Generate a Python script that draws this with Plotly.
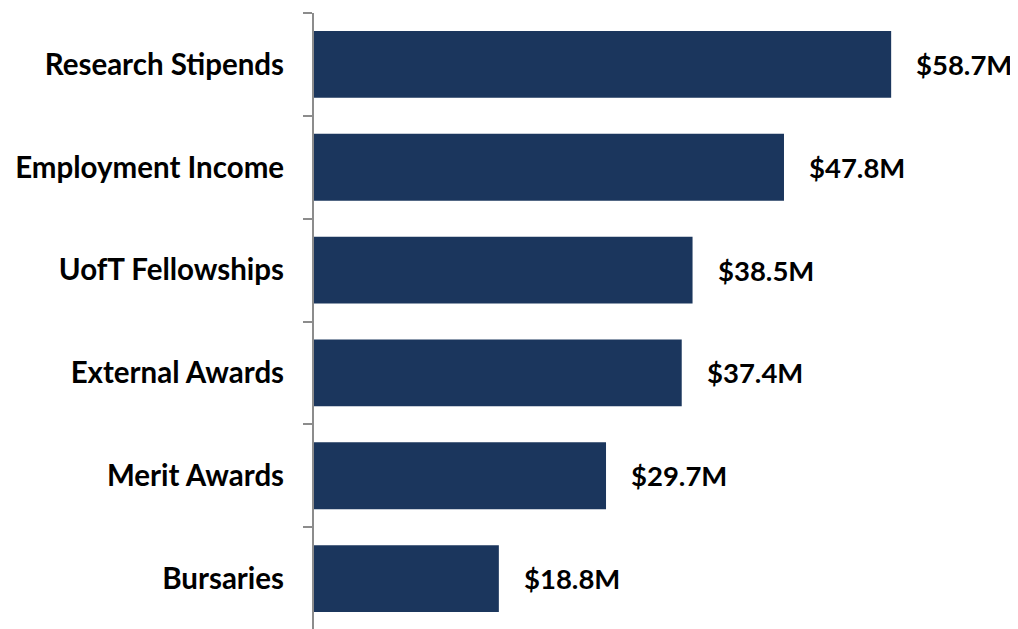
import plotly.graph_objects as go

categories = ["Research Stipends", "Employment Income", "UofT Fellowships",
              "External Awards", "Merit Awards", "Bursaries"]
values = [58.7, 47.8, 38.5, 37.4, 29.7, 18.8]
value_labels = ["$58.7M", "$47.8M", "$38.5M", "$37.4M", "$29.7M", "$18.8M"]

FONT = "Lato"
BAR = "#1B365D"

fig = go.Figure()
fig.add_trace(go.Bar(
    y=categories, x=values, orientation="h",
    marker=dict(color=BAR, line=dict(width=0)),
    width=0.65, hoverinfo="skip",
))

for c, v, t in zip(categories, values, value_labels):
    fig.add_annotation(x=v, y=c, text=t, showarrow=False, xanchor="left",
                       xshift=23, font=dict(family=FONT, size=27.5, color="#000000", weight="bold"))

fig.update_layout(
    width=1010, height=622,
    margin=dict(l=306, r=0, t=5, b=0),
    plot_bgcolor="white", paper_bgcolor="white",
    showlegend=False,
)
fig.update_xaxes(range=[0, 71.6], visible=False, showgrid=False, zeroline=False)
fig.update_yaxes(
    categoryorder="array", categoryarray=categories[::-1],
    autorange=False, range=[-0.5, 5.5],
    showline=True, linecolor="#8c8c8c", linewidth=2,
    ticks="outside", tickson="boundaries", ticklen=9, tickwidth=2, tickcolor="#8c8c8c",
    tickfont=dict(family=FONT, size=29.5, color="#000000", weight="bold"),
    ticklabelstandoff=22, showgrid=False,
)

fig.write_html("out.html")
